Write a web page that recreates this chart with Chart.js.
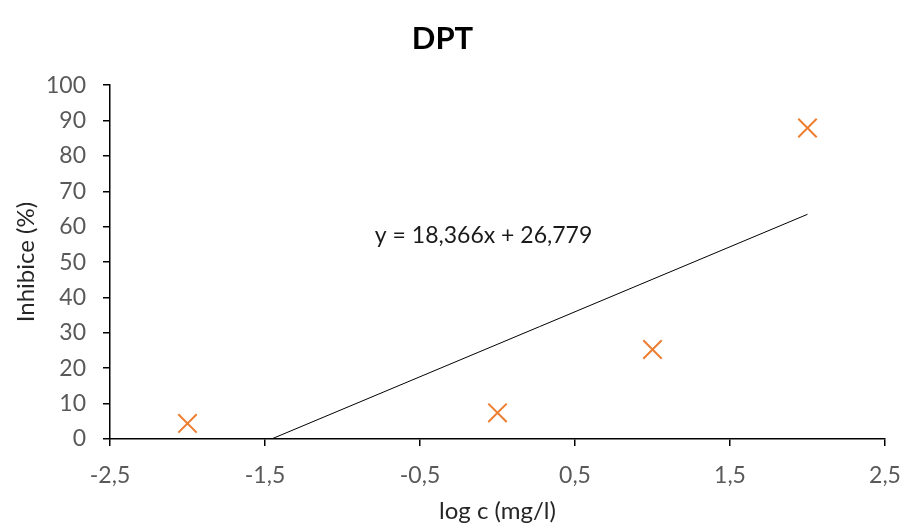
<!DOCTYPE html>
<html>
<head>
<meta charset="utf-8">
<script src="https://cdn.jsdelivr.net/npm/chart.js@4.4.1/dist/chart.umd.min.js"></script>
<style>
  html, body { margin: 0; padding: 0; background: #fff; }
  #wrap { width: 905px; height: 527px; position: relative; }
</style>
</head>
<body>
<div id="wrap"><canvas id="c" width="905" height="527"></canvas></div>
<script>
const titleText = "DPT";
const xTitle = "log c (mg/l)";
const yTitle = "Inhibice (%)";
const logC = [-2, 0, 1, 2];
const inhibice = [4.4, 7.4, 25.3, 87.9];
const slope = 18.366;
const intercept = 26.779;
const trendX = [-intercept / slope, 2];
const equationText = "y = 18,366x + 26,779";
const equationPos = { x: -0.09, y: 57.5 };

const pts = logC.map((x, i) => ({ x: x, y: inhibice[i] }));
const trendPts = trendX.map(x => ({ x: x, y: slope * x + intercept }));

const FONT = "Lato, 'Open Sans', sans-serif";

const eqPlugin = {
  id: 'eq',
  afterDatasetsDraw(chart) {
    const ctx = chart.ctx;
    const xs = chart.scales.x, ys = chart.scales.y;
    ctx.save();
    ctx.font = "23px " + FONT;
    ctx.fillStyle = "#1a1a1a";
    ctx.textAlign = "center";
    ctx.textBaseline = "middle";
    ctx.fillText(equationText, xs.getPixelForValue(equationPos.x), ys.getPixelForValue(equationPos.y));
    ctx.restore();
  }
};

new Chart(document.getElementById('c'), {
  type: 'scatter',
  data: {
    datasets: [
      {
        label: 'data',
        data: pts,
        pointStyle: 'crossRot',
        pointRadius: 13,
        pointHoverRadius: 13,
        borderColor: '#ED7D31',
        backgroundColor: '#ED7D31',
        pointBorderWidth: 2,
        borderWidth: 2
      },
      {
        label: 'trend',
        data: trendPts,
        showLine: true,
        borderColor: '#000',
        borderWidth: 1,
        pointRadius: 0,
        fill: false
      }
    ]
  },
  options: {
    responsive: false,
    animation: false,
    layout: { padding: { left: 0, right: 20, top: 0, bottom: 0 } },
    plugins: {
      legend: { display: false },
      tooltip: { enabled: false },
      title: {
        display: true,
        text: titleText,
        color: '#000',
        font: { family: FONT, size: 31, weight: 'bold', lineHeight: 1.2 },
        padding: { top: 20, bottom: 28 }
      }
    },
    scales: {
      x: {
        type: 'linear',
        min: -2.5,
        max: 2.5,
        afterFit(s) { s.height = 88; s.paddingRight = 0; s.paddingLeft = 0; },
        ticks: {
          stepSize: 1,
          color: '#595959',
          padding: 16,
          font: { family: FONT, size: 23 },
          callback: v => String(Math.round(v * 10) / 10).replace('.', ',')
        },
        grid: { drawOnChartArea: false, drawTicks: true, tickLength: 7, color: '#000', lineWidth: 1.5 },
        border: { display: true, color: '#000', width: 1.5 },
        title: {
          display: true,
          text: xTitle,
          color: '#262626',
          font: { family: FONT, size: 24 },
          padding: { top: 0, bottom: 1 }
        }
      },
      y: {
        type: 'linear',
        min: 0,
        max: 100,
        afterFit(s) { s.width = 110; },
        ticks: {
          stepSize: 10,
          color: '#595959',
          padding: 17,
          font: { family: FONT, size: 23 }
        },
        grid: { drawOnChartArea: false, drawTicks: true, tickLength: 7, color: '#000', lineWidth: 1.5 },
        border: { display: true, color: '#000', width: 1.5 },
        title: {
          display: true,
          text: yTitle,
          color: '#262626',
          font: { family: FONT, size: 24 },
          padding: { top: 12, bottom: 0 }
        }
      }
    }
  },
  plugins: [eqPlugin]
});
</script>
</body>
</html>
